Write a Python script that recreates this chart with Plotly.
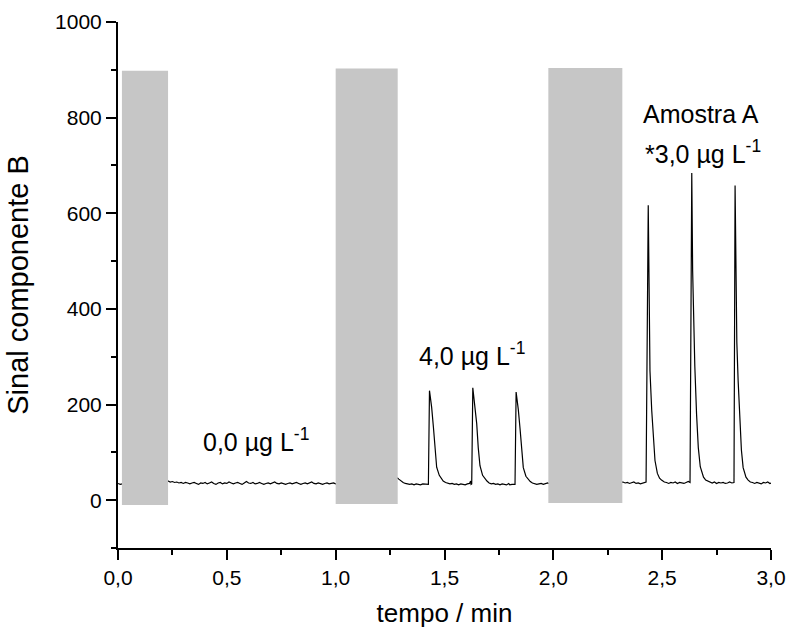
import plotly.graph_objects as go

# ---------------- data ----------------
# time (min) and signal of the recorded trace
t_min = [
    0.000, 0.010, 0.020, 0.100, 0.200, 0.225,
    0.23, 0.24, 0.25, 0.26, 0.27, 0.28, 0.29, 0.30, 0.31, 0.32, 0.33, 0.34, 0.35, 0.36,
    0.37, 0.38, 0.39, 0.40, 0.41, 0.42, 0.43, 0.44, 0.45, 0.46, 0.47, 0.48, 0.49, 0.50,
    0.51, 0.52, 0.53, 0.54, 0.55, 0.56, 0.57, 0.58, 0.59, 0.60, 0.61, 0.62, 0.63, 0.64,
    0.65, 0.66, 0.67, 0.68, 0.69, 0.70, 0.71, 0.72, 0.73, 0.74, 0.75, 0.76, 0.77, 0.78,
    0.79, 0.80, 0.81, 0.82, 0.83, 0.84, 0.85, 0.86, 0.87, 0.88, 0.89, 0.90, 0.91, 0.92,
    0.93, 0.94, 0.95, 0.96, 0.97, 0.98, 0.99, 1.00,
    1.10, 1.28,
    1.285, 1.29, 1.30, 1.31, 1.32, 1.33, 1.34, 1.35, 1.36, 1.37, 1.38, 1.39, 1.40, 1.41,
    1.42, 1.426,
    1.431, 1.435, 1.441, 1.449, 1.456, 1.464, 1.476, 1.485, 1.494, 1.505, 1.515, 1.525,
    1.535, 1.545, 1.555, 1.565, 1.575, 1.585, 1.595, 1.605, 1.615, 1.620, 1.622, 1.625,
    1.630, 1.634, 1.640, 1.648, 1.655, 1.663, 1.675, 1.685, 1.695, 1.705, 1.715, 1.725,
    1.735, 1.745, 1.755, 1.765, 1.775, 1.785, 1.795, 1.800, 1.810, 1.820, 1.824,
    1.829, 1.833, 1.839, 1.847, 1.854, 1.862, 1.874, 1.884, 1.894, 1.904, 1.914, 1.924,
    1.934, 1.944, 1.954, 1.964, 1.974, 1.980,
    2.10, 2.31,
    2.32, 2.33, 2.34, 2.35, 2.36, 2.37, 2.38, 2.39, 2.40, 2.41, 2.42, 2.426,
    2.436, 2.441, 2.444, 2.452, 2.459, 2.467, 2.478, 2.488, 2.497, 2.51, 2.52, 2.53,
    2.54, 2.55, 2.56, 2.57, 2.58, 2.59, 2.60, 2.61, 2.62, 2.628,
    2.636, 2.640, 2.645, 2.650, 2.658, 2.666, 2.675, 2.69, 2.70, 2.71, 2.72, 2.73,
    2.74, 2.75, 2.76, 2.77, 2.78, 2.79, 2.80, 2.81, 2.82, 2.83,
    2.835, 2.839, 2.843, 2.849, 2.856, 2.864, 2.872, 2.885, 2.895, 2.905, 2.915, 2.925,
    2.935, 2.945, 2.955, 2.965, 2.975, 2.985, 2.995, 3.000,
]
signal_b = [
    35, 33, 34, 35, 36, 38,
    40, 38, 39, 37, 38, 36, 37, 35, 37, 36, 34, 36, 37, 35,
    33, 36, 35, 37, 34, 36, 38, 35, 33, 36, 37, 34, 36, 35,
    38, 36, 34, 36, 37, 35, 33, 36, 39, 36, 35, 37, 34, 35,
    37, 35, 33, 35, 36, 34, 36, 38, 35, 34, 36, 35, 33, 35,
    36, 34, 35, 37, 35, 33, 35, 36, 34, 36, 38, 35, 34, 36,
    35, 33, 35, 36, 34, 35, 36, 34,
    40, 46,
    46, 44, 40, 37, 35, 34, 33, 34, 32, 34, 33, 32, 34, 33,
    32, 33,
    229, 215, 194, 153, 104, 69, 52, 45, 40, 37, 35, 34,
    35, 33, 34, 32, 34, 33, 32, 34, 35, 40, 33, 34,
    235, 220, 198, 160, 110, 72, 52, 45, 40, 36, 34, 35,
    33, 34, 32, 34, 33, 32, 35, 32, 33, 34, 33,
    226, 212, 190, 150, 102, 68, 50, 44, 39, 36, 35, 33,
    34, 35, 33, 34, 36, 35,
    36, 38,
    38, 36, 37, 35, 36, 38, 35, 36, 34, 36, 37, 38,
    617, 300, 270, 188, 125, 83, 56, 46, 42, 38, 37, 35,
    37, 36, 38, 35, 37, 36, 35, 37, 39, 37,
    684, 480, 340, 280, 180, 110, 70, 48, 42, 40, 37, 36,
    38, 35, 37, 36, 37, 35, 36, 38, 36, 37,
    658, 480, 330, 250, 170, 105, 68, 48, 42, 38, 37, 35,
    37, 36, 34, 37, 36, 38, 35, 36,
]

# grey blocks (time windows) drawn over the trace
block_t0 = [0.018, 1.000, 1.977]
block_t1 = [0.230, 1.285, 2.317]
block_lo = [-10, -8, -6]
block_hi = [898, 903, 904]

# annotations
label_text = ["0,0 µg L<sup>-1</sup>", "4,0 µg L<sup>-1</sup>",
              "Amostra A", "*3,0 µg L<sup>-1</sup>"]
label_x = [0.38, 1.372, 2.405, 2.41]
label_y = [125, 305, 808, 729]

x_ticks = [0.0, 0.5, 1.0, 1.5, 2.0, 2.5, 3.0]
y_ticks = [0, 200, 400, 600, 800, 1000]

FONT = "Arial, Liberation Sans, sans-serif"

fig = go.Figure()
fig.add_trace(go.Scatter(
    x=t_min, y=signal_b, mode="lines",
    line=dict(color="black", width=1.2),
    showlegend=False, hoverinfo="skip",
))

for x0, x1, y0, y1 in zip(block_t0, block_t1, block_lo, block_hi):
    fig.add_shape(type="rect", xref="x", yref="y", x0=x0, x1=x1, y0=y0, y1=y1,
                  fillcolor="#c6c6c6", line=dict(width=0), layer="above")

for txt, x, y in zip(label_text, label_x, label_y):
    fig.add_annotation(x=x, y=y, xref="x", yref="y", text=txt, showarrow=False,
                       xanchor="left", yanchor="middle",
                       font=dict(family=FONT, size=25, color="black"))

fig.update_layout(
    template="none",
    width=790, height=632,
    margin=dict(l=118, r=19, t=22, b=84),
    paper_bgcolor="white", plot_bgcolor="white",
    separators=",.",
    font=dict(family=FONT, color="black"),
    showlegend=False,
)
fig.update_xaxes(
    range=[0, 3.0], tickvals=x_ticks, tickformat=".1f",
    automargin=False,
    showgrid=False, zeroline=False,
    showline=True, linecolor="black", linewidth=2,
    ticks="outside", ticklen=10, tickwidth=2, tickcolor="black",
    minor=dict(dtick=0.25, ticks="outside", ticklen=5, tickwidth=2, tickcolor="black"),
    tickfont=dict(family=FONT, size=21),
    title=dict(text="tempo / min", font=dict(family=FONT, size=26), standoff=16),
)
fig.update_yaxes(
    range=[-100, 1000], tickvals=y_ticks, tickformat="d",
    automargin=False,
    showgrid=False, zeroline=False,
    showline=True, linecolor="black", linewidth=2,
    ticks="outside", ticklen=10, tickwidth=2, tickcolor="black",
    minor=dict(dtick=100, ticks="outside", ticklen=5, tickwidth=2, tickcolor="black"),
    tickfont=dict(family=FONT, size=21),
    title=dict(text="Sinal componente B", font=dict(family=FONT, size=29), standoff=18),
)

fig.write_html("out.html")
